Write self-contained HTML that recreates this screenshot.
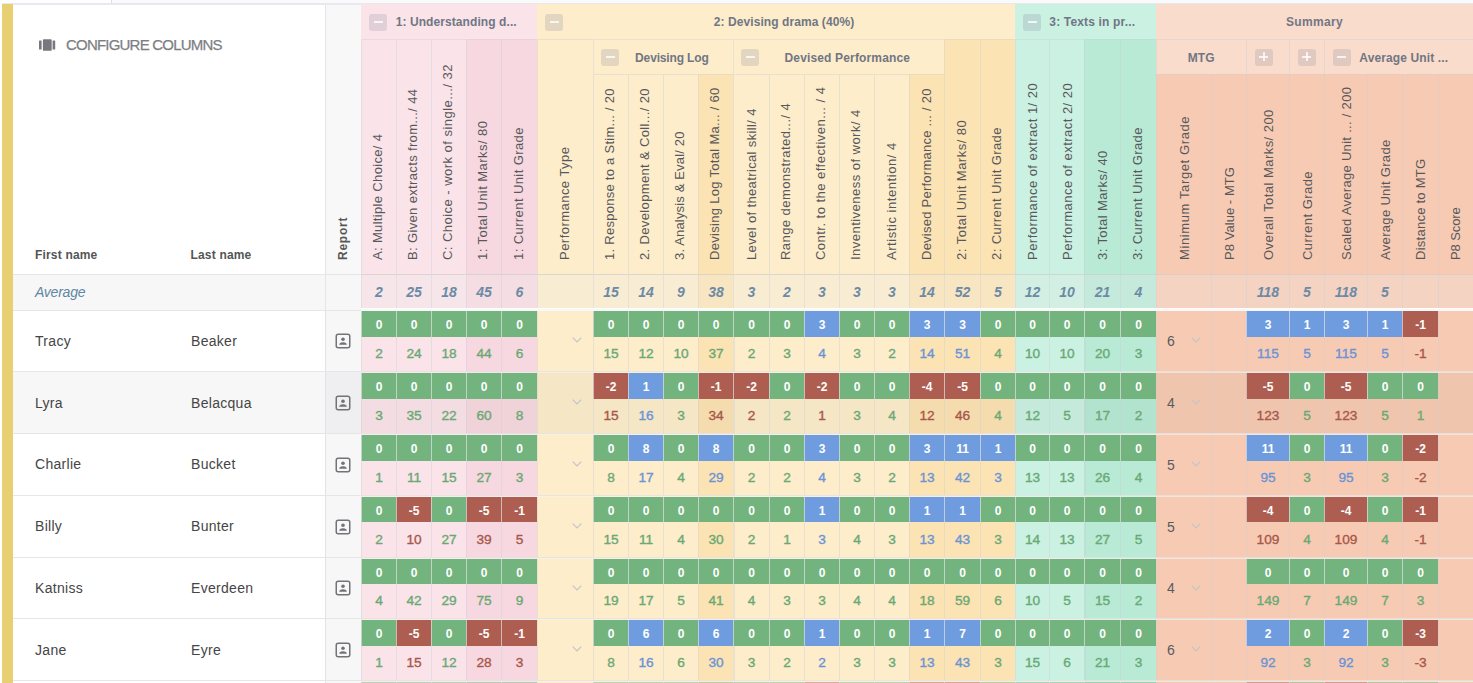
<!DOCTYPE html>
<html><head><meta charset="utf-8"><title>Markbook</title>
<style>
html,body{margin:0;padding:0;background:#fff;}
body{width:1473px;height:683px;overflow:hidden;position:relative;font-family:"Liberation Sans",sans-serif;color:#4a4a4a;}
div,span{box-sizing:border-box;}
svg{display:block;}
.a{position:absolute;}
.hc{position:absolute;border-left:1px solid rgba(200,205,215,0.38);}
.rt{position:absolute;white-space:nowrap;font-size:13px;line-height:16px;height:16px;color:#58585c;transform-origin:0 50%;transform:rotate(-90deg);}
.gh{position:absolute;font-weight:bold;font-size:12px;color:#717684;line-height:35px;height:35px;white-space:nowrap;}
.btn{position:absolute;width:18px;height:17px;border-radius:3px;background:rgba(125,125,150,0.2);}
.btn i{position:absolute;left:4.5px;top:7.75px;width:9px;height:1.4px;background:#fff;opacity:.78;}
.btn b{position:absolute;left:8.3px;top:3.95px;width:1.4px;height:9px;background:#fff;opacity:.78;}
.av{position:absolute;text-align:center;font-style:italic;font-weight:bold;font-size:14px;color:#6c8aa5;line-height:34px;height:35px;border-left:1px solid rgba(200,205,215,0.36);}
.t{position:absolute;height:26px;line-height:28px;text-align:center;color:#fff;font-weight:bold;font-size:12px;border-left:1px solid rgba(225,222,225,0.72);}
.v{position:absolute;height:34px;line-height:33px;text-align:center;font-size:13.7px;border-left:1px solid rgba(200,205,215,0.38);-webkit-text-stroke:0.35px currentColor;}
.nm{position:absolute;font-size:14px;color:#454545;line-height:20px;white-space:nowrap;letter-spacing:0.3px;}
.hl{position:absolute;height:1px;}
</style></head><body>

<div class="a" style="left:112px;top:0;width:1361px;height:3px;background:#fafafa"></div>
<div class="a" style="left:111px;top:0;width:1px;height:4px;background:#dcdde6"></div>
<div class="a" style="left:2px;top:3px;width:1471px;height:2px;background:#e8e9ee"></div>
<div class="a" style="left:2px;top:4px;width:11px;height:679px;background:#e7cf72"></div>
<div class="a" style="left:38.8px;top:38.8px;width:17px;height:12px"><svg width="17" height="12" viewBox="0 0 17 12"><rect x="0" y="1.4" width="2.6" height="9.2" rx="0.5" fill="#77787d"/><rect x="3.9" y="0.2" width="8.8" height="11.6" rx="0.9" fill="#77787d"/><rect x="13.6" y="1.4" width="2.6" height="9.2" rx="0.5" fill="#77787d"/></svg></div>
<div class="a" style="left:66px;top:35.4px;font-size:15px;line-height:20px;color:#7d7e83;-webkit-text-stroke:0.25px #7d7e83;letter-spacing:-0.793px;white-space:nowrap">CONFIGURE COLUMNS</div>
<div class="a" style="left:35px;top:246.8px;font-size:12px;font-weight:bold;line-height:16px;color:#555;white-space:nowrap;letter-spacing:0.179px">First name</div>
<div class="a" style="left:190.5px;top:246.8px;font-size:12px;font-weight:bold;line-height:16px;color:#555;white-space:nowrap;letter-spacing:0.18px">Last name</div>
<div class="a" style="left:325px;top:5px;width:36px;height:269px;background:#f8f8f8;border-left:1px solid #e4e4e9"></div>
<span class="rt" style="left:343px;top:251.5px;font-weight:bold;font-size:12px;letter-spacing:0.746px;color:#585858">Report</span>
<div class="a" style="left:361px;top:4px;width:176px;height:35px;background:#fae4e9;"></div>
<div class="gh" style="left:395.7px;top:5.3px;letter-spacing:0.083px">1: Understanding d...</div>
<div class="btn" style="left:369px;top:13.5px"><i></i></div>
<div class="a" style="left:537px;top:4px;width:478px;height:35px;background:#fdedcb;"></div>
<div class="gh" style="left:713.8px;top:5.3px;letter-spacing:0.076px">2: Devising drama (40%)</div>
<div class="btn" style="left:545px;top:13.5px"><i></i></div>
<div class="a" style="left:1015px;top:4px;width:141px;height:35px;background:#cbf1e2;"></div>
<div class="gh" style="left:1049.3px;top:5.3px;letter-spacing:0.16px">3: Texts in pr...</div>
<div class="btn" style="left:1023px;top:13.5px"><i></i></div>
<div class="a" style="left:1156px;top:4px;width:317px;height:35px;background:#f9dccc;"></div>
<div class="gh" style="left:1285.9px;top:5.3px;letter-spacing:0.333px">Summary</div>
<div class="a" style="left:593px;top:39px;width:140px;height:35px;background:#fdedcb;border-left:1px solid rgba(200,205,215,0.36);border-top:1px solid rgba(200,205,215,0.36);"></div>
<div class="gh" style="left:635.1px;top:40.5px;letter-spacing:-0.149px">Devising Log</div>
<div class="btn" style="left:601px;top:48.5px"><i></i></div>
<div class="a" style="left:733px;top:39px;width:211px;height:35px;background:#fdedcb;border-left:1px solid rgba(200,205,215,0.36);border-top:1px solid rgba(200,205,215,0.36);"></div>
<div class="gh" style="left:784.5px;top:40.5px;letter-spacing:0.154px">Devised Performance</div>
<div class="btn" style="left:741px;top:48.5px"><i></i></div>
<div class="a" style="left:1156px;top:39px;width:90px;height:35px;background:#f9dccc;border-left:1px solid rgba(200,205,215,0.36);border-top:1px solid rgba(200,205,215,0.36);"></div>
<div class="gh" style="left:1187.7px;top:40.5px;letter-spacing:0.164px">MTG</div>
<div class="a" style="left:1246px;top:39px;width:43px;height:35px;background:#f9dccc;border-left:1px solid rgba(200,205,215,0.36);border-top:1px solid rgba(200,205,215,0.36);"></div>
<div class="btn" style="left:1254.9px;top:48.5px"><i></i><b></b></div>
<div class="a" style="left:1289px;top:39px;width:35px;height:35px;background:#f9dccc;border-left:1px solid rgba(200,205,215,0.36);border-top:1px solid rgba(200,205,215,0.36);"></div>
<div class="btn" style="left:1297.9px;top:48.5px"><i></i><b></b></div>
<div class="a" style="left:1324px;top:39px;width:149px;height:35px;background:#f9dccc;border-left:1px solid rgba(200,205,215,0.36);border-top:1px solid rgba(200,205,215,0.36);"></div>
<div class="gh" style="left:1359.3px;top:40.5px;letter-spacing:0.119px">Average Unit ...</div>
<div class="btn" style="left:1332.9px;top:48.5px"><i></i></div>
<div class="hc" style="left:361px;top:39px;width:35px;height:235px;background:#fae4e9;border-top:1px solid rgba(200,205,215,0.36)"></div>
<span class="rt" style="left:378.2px;top:251.60000000000002px;letter-spacing:0.338px">A: Multiple Choice/ 4</span>
<div class="hc" style="left:396px;top:39px;width:35px;height:235px;background:#fae4e9;border-top:1px solid rgba(200,205,215,0.36)"></div>
<span class="rt" style="left:413.2px;top:251.60000000000002px;letter-spacing:0.353px">B: Given extracts from.../ 44</span>
<div class="hc" style="left:431px;top:39px;width:35px;height:235px;background:#fae4e9;border-top:1px solid rgba(200,205,215,0.36)"></div>
<span class="rt" style="left:448.2px;top:251.60000000000002px;letter-spacing:0.464px">C: Choice - work of single.../ 32</span>
<div class="hc" style="left:466px;top:39px;width:35px;height:235px;background:#f7d8e0;border-top:1px solid rgba(200,205,215,0.36)"></div>
<span class="rt" style="left:483.2px;top:251.60000000000002px;letter-spacing:0.45px">1: Total Unit Marks/ 80</span>
<div class="hc" style="left:501px;top:39px;width:36px;height:235px;background:#f7d8e0;border-top:1px solid rgba(200,205,215,0.36)"></div>
<span class="rt" style="left:518.7px;top:251.60000000000002px;letter-spacing:0.411px">1: Current Unit Grade</span>
<div class="hc" style="left:537px;top:39px;width:56px;height:235px;background:#fdedcb;border-top:1px solid rgba(200,205,215,0.36)"></div>
<span class="rt" style="left:564.7px;top:251.60000000000002px;letter-spacing:0.468px">Performance Type</span>
<div class="hc" style="left:593px;top:74px;width:35px;height:200px;background:#fdedcb;border-top:1px solid rgba(200,205,215,0.36)"></div>
<span class="rt" style="left:610.2px;top:251.60000000000002px;letter-spacing:0.267px">1. Response to a Stim... / 20</span>
<div class="hc" style="left:628px;top:74px;width:35px;height:200px;background:#fdedcb;border-top:1px solid rgba(200,205,215,0.36)"></div>
<span class="rt" style="left:645.2px;top:251.60000000000002px;letter-spacing:0.357px">2. Development &amp; Coll.../ 20</span>
<div class="hc" style="left:663px;top:74px;width:35px;height:200px;background:#fdedcb;border-top:1px solid rgba(200,205,215,0.36)"></div>
<span class="rt" style="left:680.2px;top:251.60000000000002px;letter-spacing:0.161px">3. Analysis &amp; Eval/ 20</span>
<div class="hc" style="left:698px;top:74px;width:35px;height:200px;background:#fce3b3;border-top:1px solid rgba(200,205,215,0.36)"></div>
<span class="rt" style="left:715.2px;top:251.60000000000002px;letter-spacing:0.304px">Devising Log Total Ma... / 60</span>
<div class="hc" style="left:733px;top:74px;width:36px;height:200px;background:#fdedcb;border-top:1px solid rgba(200,205,215,0.36)"></div>
<span class="rt" style="left:751.5px;top:251.60000000000002px;letter-spacing:0.366px">Level of theatrical skill/ 4</span>
<div class="hc" style="left:769px;top:74px;width:35px;height:200px;background:#fdedcb;border-top:1px solid rgba(200,205,215,0.36)"></div>
<span class="rt" style="left:786.2px;top:251.60000000000002px;letter-spacing:0.439px">Range demonstrated.../ 4</span>
<div class="hc" style="left:804px;top:74px;width:35px;height:200px;background:#fdedcb;border-top:1px solid rgba(200,205,215,0.36)"></div>
<span class="rt" style="left:821.2px;top:251.60000000000002px;letter-spacing:0.472px">Contr. to the effectiven... / 4</span>
<div class="hc" style="left:839px;top:74px;width:35px;height:200px;background:#fdedcb;border-top:1px solid rgba(200,205,215,0.36)"></div>
<span class="rt" style="left:856.2px;top:251.60000000000002px;letter-spacing:0.471px">Inventiveness of work/ 4</span>
<div class="hc" style="left:874px;top:74px;width:35px;height:200px;background:#fdedcb;border-top:1px solid rgba(200,205,215,0.36)"></div>
<span class="rt" style="left:892.2px;top:251.60000000000002px;letter-spacing:0.554px">Artistic intention/ 4</span>
<div class="hc" style="left:909px;top:74px;width:35px;height:200px;background:#fce3b3;border-top:1px solid rgba(200,205,215,0.36)"></div>
<span class="rt" style="left:926.8000000000001px;top:251.60000000000002px;letter-spacing:0.246px">Devised Performance ... / 20</span>
<div class="hc" style="left:944px;top:39px;width:36px;height:235px;background:#fce3b3;border-top:1px solid rgba(200,205,215,0.36)"></div>
<span class="rt" style="left:961.7px;top:251.60000000000002px;letter-spacing:0.487px">2: Total Unit Marks/ 80</span>
<div class="hc" style="left:980px;top:39px;width:35px;height:235px;background:#fce3b3;border-top:1px solid rgba(200,205,215,0.36)"></div>
<span class="rt" style="left:997.2px;top:251.60000000000002px;letter-spacing:0.411px">2: Current Unit Grade</span>
<div class="hc" style="left:1015px;top:39px;width:34px;height:235px;background:#cbf1e2;border-top:1px solid rgba(200,205,215,0.36)"></div>
<span class="rt" style="left:1033.2px;top:251.60000000000002px;letter-spacing:0.469px">Performance of extract 1/ 20</span>
<div class="hc" style="left:1049px;top:39px;width:35px;height:235px;background:#cbf1e2;border-top:1px solid rgba(200,205,215,0.36)"></div>
<span class="rt" style="left:1068.2px;top:251.60000000000002px;letter-spacing:0.469px">Performance of extract 2/ 20</span>
<div class="hc" style="left:1084px;top:39px;width:36px;height:235px;background:#b8ead5;border-top:1px solid rgba(200,205,215,0.36)"></div>
<span class="rt" style="left:1102.9px;top:251.60000000000002px;letter-spacing:0.407px">3: Total Marks/ 40</span>
<div class="hc" style="left:1120px;top:39px;width:36px;height:235px;background:#b8ead5;border-top:1px solid rgba(200,205,215,0.36)"></div>
<span class="rt" style="left:1137.7px;top:251.60000000000002px;letter-spacing:0.411px">3: Current Unit Grade</span>
<div class="hc" style="left:1156px;top:74px;width:55px;height:200px;background:#f7cbb3;border-top:1px solid rgba(200,205,215,0.36)"></div>
<span class="rt" style="left:1184.7px;top:251.60000000000002px;letter-spacing:0.611px">Minimum Target Grade</span>
<div class="hc" style="left:1211px;top:74px;width:35px;height:200px;background:#f7cbb3;border-top:1px solid rgba(200,205,215,0.36)"></div>
<span class="rt" style="left:1229.7px;top:251.60000000000002px;letter-spacing:0.051px">P8 Value - MTG</span>
<div class="hc" style="left:1246px;top:74px;width:43px;height:200px;background:#f7cbb3;border-top:1px solid rgba(200,205,215,0.36)"></div>
<span class="rt" style="left:1268.7px;top:251.60000000000002px;letter-spacing:0.451px">Overall Total Marks/ 200</span>
<div class="hc" style="left:1289px;top:74px;width:35px;height:200px;background:#f7cbb3;border-top:1px solid rgba(200,205,215,0.36)"></div>
<span class="rt" style="left:1307.7px;top:251.60000000000002px;letter-spacing:0.459px">Current Grade</span>
<div class="hc" style="left:1324px;top:74px;width:43px;height:200px;background:#f7cbb3;border-top:1px solid rgba(200,205,215,0.36)"></div>
<span class="rt" style="left:1346.7px;top:251.60000000000002px;letter-spacing:0.299px">Scaled Average Unit ... / 200</span>
<div class="hc" style="left:1367px;top:74px;width:35px;height:200px;background:#f7cbb3;border-top:1px solid rgba(200,205,215,0.36)"></div>
<span class="rt" style="left:1385.7px;top:251.60000000000002px;letter-spacing:0.325px">Average Unit Grade</span>
<div class="hc" style="left:1402px;top:74px;width:36px;height:200px;background:#f7cbb3;border-top:1px solid rgba(200,205,215,0.36)"></div>
<span class="rt" style="left:1420.6000000000001px;top:251.60000000000002px;letter-spacing:0.255px">Distance to MTG</span>
<div class="hc" style="left:1438px;top:74px;width:35px;height:200px;background:#f7cbb3;border-top:1px solid rgba(200,205,215,0.36)"></div>
<span class="rt" style="left:1455.6000000000001px;top:251.60000000000002px;letter-spacing:-0.098px">P8 Score</span>
<div class="a" style="left:13px;top:274px;width:313px;height:36px;background:#f7f7f7;border-top:1px solid #e6e6e6"></div>
<div class="a" style="left:325px;top:274px;width:36px;height:36px;background:#f7f7f7;border-left:1px solid #e4e4e9;border-top:1px solid #e6e6e6"></div>
<div class="a" style="left:35px;top:274px;font-size:14px;font-style:italic;line-height:37px;color:#5f86a2;letter-spacing:-0.234px">Average</div>
<div class="av" style="left:361px;top:274px;width:35px;height:34px;background:#f6e6ea;border-top:1px solid rgba(205,200,200,0.6)">2</div>
<div class="av" style="left:396px;top:274px;width:35px;height:34px;background:#f6e6ea;border-top:1px solid rgba(205,200,200,0.6)">25</div>
<div class="av" style="left:431px;top:274px;width:35px;height:34px;background:#f6e6ea;border-top:1px solid rgba(205,200,200,0.6)">18</div>
<div class="av" style="left:466px;top:274px;width:35px;height:34px;background:#f4dde3;border-top:1px solid rgba(205,200,200,0.6)">45</div>
<div class="av" style="left:501px;top:274px;width:36px;height:34px;background:#f4dde3;border-top:1px solid rgba(205,200,200,0.6)">6</div>
<div class="av" style="left:537px;top:274px;width:56px;height:34px;background:#f8ecd3;border-top:1px solid rgba(205,200,200,0.6)"></div>
<div class="av" style="left:593px;top:274px;width:35px;height:34px;background:#f8ecd3;border-top:1px solid rgba(205,200,200,0.6)">15</div>
<div class="av" style="left:628px;top:274px;width:35px;height:34px;background:#f8ecd3;border-top:1px solid rgba(205,200,200,0.6)">14</div>
<div class="av" style="left:663px;top:274px;width:35px;height:34px;background:#f8ecd3;border-top:1px solid rgba(205,200,200,0.6)">9</div>
<div class="av" style="left:698px;top:274px;width:35px;height:34px;background:#f8e5c2;border-top:1px solid rgba(205,200,200,0.6)">38</div>
<div class="av" style="left:733px;top:274px;width:36px;height:34px;background:#f8ecd3;border-top:1px solid rgba(205,200,200,0.6)">3</div>
<div class="av" style="left:769px;top:274px;width:35px;height:34px;background:#f8ecd3;border-top:1px solid rgba(205,200,200,0.6)">2</div>
<div class="av" style="left:804px;top:274px;width:35px;height:34px;background:#f8ecd3;border-top:1px solid rgba(205,200,200,0.6)">3</div>
<div class="av" style="left:839px;top:274px;width:35px;height:34px;background:#f8ecd3;border-top:1px solid rgba(205,200,200,0.6)">3</div>
<div class="av" style="left:874px;top:274px;width:35px;height:34px;background:#f8ecd3;border-top:1px solid rgba(205,200,200,0.6)">3</div>
<div class="av" style="left:909px;top:274px;width:35px;height:34px;background:#f8e5c2;border-top:1px solid rgba(205,200,200,0.6)">14</div>
<div class="av" style="left:944px;top:274px;width:36px;height:34px;background:#f8e5c2;border-top:1px solid rgba(205,200,200,0.6)">52</div>
<div class="av" style="left:980px;top:274px;width:35px;height:34px;background:#f8e5c2;border-top:1px solid rgba(205,200,200,0.6)">5</div>
<div class="av" style="left:1015px;top:274px;width:34px;height:34px;background:#d3efe4;border-top:1px solid rgba(205,200,200,0.6)">12</div>
<div class="av" style="left:1049px;top:274px;width:35px;height:34px;background:#d3efe4;border-top:1px solid rgba(205,200,200,0.6)">10</div>
<div class="av" style="left:1084px;top:274px;width:36px;height:34px;background:#c5eadb;border-top:1px solid rgba(205,200,200,0.6)">21</div>
<div class="av" style="left:1120px;top:274px;width:36px;height:34px;background:#c5eadb;border-top:1px solid rgba(205,200,200,0.6)">4</div>
<div class="av" style="left:1156px;top:274px;width:55px;height:34px;background:#f4d3c2;border-top:1px solid rgba(205,200,200,0.6)"></div>
<div class="av" style="left:1211px;top:274px;width:35px;height:34px;background:#f4d3c2;border-top:1px solid rgba(205,200,200,0.6)"></div>
<div class="av" style="left:1246px;top:274px;width:43px;height:34px;background:#f4d3c2;border-top:1px solid rgba(205,200,200,0.6)">118</div>
<div class="av" style="left:1289px;top:274px;width:35px;height:34px;background:#f4d3c2;border-top:1px solid rgba(205,200,200,0.6)">5</div>
<div class="av" style="left:1324px;top:274px;width:43px;height:34px;background:#f4d3c2;border-top:1px solid rgba(205,200,200,0.6)">118</div>
<div class="av" style="left:1367px;top:274px;width:35px;height:34px;background:#f4d3c2;border-top:1px solid rgba(205,200,200,0.6)">5</div>
<div class="av" style="left:1402px;top:274px;width:36px;height:34px;background:#f4d3c2;border-top:1px solid rgba(205,200,200,0.6)"></div>
<div class="av" style="left:1438px;top:274px;width:35px;height:34px;background:#f4d3c2;border-top:1px solid rgba(205,200,200,0.6)"></div>
<div class="a" style="left:13px;top:310px;width:312px;height:61px;background:#ffffff;border-top:1px solid #e6e6e6"></div>
<div class="a" style="left:325px;top:310px;width:36px;height:61px;background:#f7f7f7;border-left:1px solid #e2e2e8;border-top:1px solid #e6e6e6"></div>
<div class="nm" style="left:35px;top:330.8px">Tracy</div>
<div class="nm" style="left:191px;top:330.8px">Beaker</div>
<div class="a" style="left:335px;top:333.0px;width:16px;height:16px"><svg width="16" height="16" viewBox="0 0 16 16"><rect x="1.25" y="1.25" width="13.5" height="13.5" rx="2" fill="none" stroke="#727277" stroke-width="1.5"/><circle cx="8" cy="6.3" r="1.8" fill="#727277"/><path d="M4.2 11.8 Q4.2 9.3 8 9.3 Q11.8 9.3 11.8 11.8 Z" fill="#727277"/></svg></div>
<div class="v" style="left:361px;top:309px;width:35px;height:62px;background:#fae4e9"></div>
<div class="v" style="left:396px;top:309px;width:35px;height:62px;background:#fae4e9"></div>
<div class="v" style="left:431px;top:309px;width:35px;height:62px;background:#fae4e9"></div>
<div class="v" style="left:466px;top:309px;width:35px;height:62px;background:#f7d8e0"></div>
<div class="v" style="left:501px;top:309px;width:36px;height:62px;background:#f7d8e0"></div>
<div class="v" style="left:537px;top:309px;width:56px;height:62px;background:#fdedcb"></div>
<div class="v" style="left:593px;top:309px;width:35px;height:62px;background:#fdedcb"></div>
<div class="v" style="left:628px;top:309px;width:35px;height:62px;background:#fdedcb"></div>
<div class="v" style="left:663px;top:309px;width:35px;height:62px;background:#fdedcb"></div>
<div class="v" style="left:698px;top:309px;width:35px;height:62px;background:#fce3b3"></div>
<div class="v" style="left:733px;top:309px;width:36px;height:62px;background:#fdedcb;border-left-width:2px"></div>
<div class="v" style="left:769px;top:309px;width:35px;height:62px;background:#fdedcb"></div>
<div class="v" style="left:804px;top:309px;width:35px;height:62px;background:#fdedcb"></div>
<div class="v" style="left:839px;top:309px;width:35px;height:62px;background:#fdedcb"></div>
<div class="v" style="left:874px;top:309px;width:35px;height:62px;background:#fdedcb"></div>
<div class="v" style="left:909px;top:309px;width:35px;height:62px;background:#fce3b3"></div>
<div class="v" style="left:944px;top:309px;width:36px;height:62px;background:#fce3b3"></div>
<div class="v" style="left:980px;top:309px;width:35px;height:62px;background:#fce3b3"></div>
<div class="v" style="left:1015px;top:309px;width:34px;height:62px;background:#cbf1e2"></div>
<div class="v" style="left:1049px;top:309px;width:35px;height:62px;background:#cbf1e2"></div>
<div class="v" style="left:1084px;top:309px;width:36px;height:62px;background:#b8ead5;border-left-width:2px"></div>
<div class="v" style="left:1120px;top:309px;width:36px;height:62px;background:#b8ead5"></div>
<div class="v" style="left:1156px;top:309px;width:55px;height:62px;background:#f7cbb3"></div>
<div class="v" style="left:1211px;top:309px;width:35px;height:62px;background:#f7cbb3"></div>
<div class="v" style="left:1246px;top:309px;width:43px;height:62px;background:#f7cbb3"></div>
<div class="v" style="left:1289px;top:309px;width:35px;height:62px;background:#f7cbb3"></div>
<div class="v" style="left:1324px;top:309px;width:43px;height:62px;background:#f7cbb3"></div>
<div class="v" style="left:1367px;top:309px;width:35px;height:62px;background:#f7cbb3"></div>
<div class="v" style="left:1402px;top:309px;width:36px;height:62px;background:#f7cbb3"></div>
<div class="v" style="left:1438px;top:309px;width:35px;height:62px;background:#f7cbb3"></div>
<div class="hl" style="left:361px;top:308px;width:1112px;height:1px;background:rgba(248,248,248,0.3)"></div>
<div class="hl" style="left:361px;top:309px;width:1112px;height:2px;background:#f8f8f8"></div>
<div class="t" style="left:361px;top:311px;width:35px;height:26px;background:#73b37e">0</div>
<div class="v" style="left:361px;top:337px;width:35px;height:34px;line-height:34px;color:#6aa874;border-left:none;padding-left:1px">2</div>
<div class="t" style="left:396px;top:311px;width:35px;height:26px;background:#73b37e">0</div>
<div class="v" style="left:396px;top:337px;width:35px;height:34px;line-height:34px;color:#6aa874;border-left:none;padding-left:1px">24</div>
<div class="t" style="left:431px;top:311px;width:35px;height:26px;background:#73b37e">0</div>
<div class="v" style="left:431px;top:337px;width:35px;height:34px;line-height:34px;color:#6aa874;border-left:none;padding-left:1px">18</div>
<div class="t" style="left:466px;top:311px;width:35px;height:26px;background:#73b37e">0</div>
<div class="v" style="left:466px;top:337px;width:35px;height:34px;line-height:34px;color:#6aa874;border-left:none;padding-left:1px">44</div>
<div class="t" style="left:501px;top:311px;width:36px;height:26px;background:#73b37e">0</div>
<div class="v" style="left:501px;top:337px;width:36px;height:34px;line-height:34px;color:#6aa874;border-left:none;padding-left:1px">6</div>
<div class="t" style="left:593px;top:311px;width:35px;height:26px;background:#73b37e">0</div>
<div class="v" style="left:593px;top:337px;width:35px;height:34px;line-height:34px;color:#6aa874;border-left:none;padding-left:1px">15</div>
<div class="t" style="left:628px;top:311px;width:35px;height:26px;background:#73b37e">0</div>
<div class="v" style="left:628px;top:337px;width:35px;height:34px;line-height:34px;color:#6aa874;border-left:none;padding-left:1px">12</div>
<div class="t" style="left:663px;top:311px;width:35px;height:26px;background:#73b37e">0</div>
<div class="v" style="left:663px;top:337px;width:35px;height:34px;line-height:34px;color:#6aa874;border-left:none;padding-left:1px">10</div>
<div class="t" style="left:698px;top:311px;width:35px;height:26px;background:#73b37e">0</div>
<div class="v" style="left:698px;top:337px;width:35px;height:34px;line-height:34px;color:#6aa874;border-left:none;padding-left:1px">37</div>
<div class="t" style="left:733px;top:311px;width:36px;height:26px;background:#73b37e">0</div>
<div class="v" style="left:733px;top:337px;width:36px;height:34px;line-height:34px;color:#6aa874;border-left:none;padding-left:1px">2</div>
<div class="t" style="left:769px;top:311px;width:35px;height:26px;background:#73b37e">0</div>
<div class="v" style="left:769px;top:337px;width:35px;height:34px;line-height:34px;color:#6aa874;border-left:none;padding-left:1px">3</div>
<div class="t" style="left:804px;top:311px;width:35px;height:26px;background:#6e9cde">3</div>
<div class="v" style="left:804px;top:337px;width:35px;height:34px;line-height:34px;color:#6b93d6;border-left:none;padding-left:1px">4</div>
<div class="t" style="left:839px;top:311px;width:35px;height:26px;background:#73b37e">0</div>
<div class="v" style="left:839px;top:337px;width:35px;height:34px;line-height:34px;color:#6aa874;border-left:none;padding-left:1px">3</div>
<div class="t" style="left:874px;top:311px;width:35px;height:26px;background:#73b37e">0</div>
<div class="v" style="left:874px;top:337px;width:35px;height:34px;line-height:34px;color:#6aa874;border-left:none;padding-left:1px">2</div>
<div class="t" style="left:909px;top:311px;width:35px;height:26px;background:#6e9cde">3</div>
<div class="v" style="left:909px;top:337px;width:35px;height:34px;line-height:34px;color:#6b93d6;border-left:none;padding-left:1px">14</div>
<div class="t" style="left:944px;top:311px;width:36px;height:26px;background:#6e9cde">3</div>
<div class="v" style="left:944px;top:337px;width:36px;height:34px;line-height:34px;color:#6b93d6;border-left:none;padding-left:1px">51</div>
<div class="t" style="left:980px;top:311px;width:35px;height:26px;background:#73b37e">0</div>
<div class="v" style="left:980px;top:337px;width:35px;height:34px;line-height:34px;color:#6aa874;border-left:none;padding-left:1px">4</div>
<div class="t" style="left:1015px;top:311px;width:34px;height:26px;background:#73b37e">0</div>
<div class="v" style="left:1015px;top:337px;width:34px;height:34px;line-height:34px;color:#6aa874;border-left:none;padding-left:1px">10</div>
<div class="t" style="left:1049px;top:311px;width:35px;height:26px;background:#73b37e">0</div>
<div class="v" style="left:1049px;top:337px;width:35px;height:34px;line-height:34px;color:#6aa874;border-left:none;padding-left:1px">10</div>
<div class="t" style="left:1084px;top:311px;width:36px;height:26px;background:#73b37e">0</div>
<div class="v" style="left:1084px;top:337px;width:36px;height:34px;line-height:34px;color:#6aa874;border-left:none;padding-left:1px">20</div>
<div class="t" style="left:1120px;top:311px;width:36px;height:26px;background:#73b37e">0</div>
<div class="v" style="left:1120px;top:337px;width:36px;height:34px;line-height:34px;color:#6aa874;border-left:none;padding-left:1px">3</div>
<div class="t" style="left:1246px;top:311px;width:43px;height:26px;background:#6e9cde">3</div>
<div class="v" style="left:1246px;top:337px;width:43px;height:34px;line-height:34px;color:#6b93d6;border-left:none;padding-left:1px">115</div>
<div class="t" style="left:1289px;top:311px;width:35px;height:26px;background:#6e9cde">1</div>
<div class="v" style="left:1289px;top:337px;width:35px;height:34px;line-height:34px;color:#6b93d6;border-left:none;padding-left:1px">5</div>
<div class="t" style="left:1324px;top:311px;width:43px;height:26px;background:#6e9cde">3</div>
<div class="v" style="left:1324px;top:337px;width:43px;height:34px;line-height:34px;color:#6b93d6;border-left:none;padding-left:1px">115</div>
<div class="t" style="left:1367px;top:311px;width:35px;height:26px;background:#6e9cde">1</div>
<div class="v" style="left:1367px;top:337px;width:35px;height:34px;line-height:34px;color:#6b93d6;border-left:none;padding-left:1px">5</div>
<div class="t" style="left:1402px;top:311px;width:36px;height:26px;background:#ae5e50">-1</div>
<div class="v" style="left:1402px;top:337px;width:36px;height:34px;line-height:34px;color:#a8574a;border-left:none;padding-left:1px">-1</div>
<div class="a" style="left:572px;top:337.2px;width:10px;height:6px"><svg width="10" height="6" viewBox="0 0 10 6"><path d="M0.7 0.7 L5 5 L9.3 0.7" fill="none" stroke="#c3c3cb" stroke-width="1.2"/></svg></div>
<div class="a" style="left:1191px;top:337.2px;width:10px;height:6px"><svg width="10" height="6" viewBox="0 0 10 6"><path d="M0.7 0.7 L5 5 L9.3 0.7" fill="none" stroke="#c3c3cb" stroke-width="1.2"/></svg></div>
<div class="a" style="left:1167px;top:331.0px;font-size:14px;line-height:20px;color:#5a5a5e">6</div>
<div class="a" style="left:13px;top:371px;width:312px;height:62px;background:#f7f7f7;border-top:1px solid #e6e6e6"></div>
<div class="a" style="left:325px;top:371px;width:36px;height:62px;background:#efeff1;border-left:1px solid #e2e2e8;border-top:1px solid #e6e6e6"></div>
<div class="nm" style="left:35px;top:392.64000000000004px">Lyra</div>
<div class="nm" style="left:191px;top:392.64000000000004px">Belacqua</div>
<div class="a" style="left:335px;top:394.84000000000003px;width:16px;height:16px"><svg width="16" height="16" viewBox="0 0 16 16"><rect x="1.25" y="1.25" width="13.5" height="13.5" rx="2" fill="none" stroke="#727277" stroke-width="1.5"/><circle cx="8" cy="6.3" r="1.8" fill="#727277"/><path d="M4.2 11.8 Q4.2 9.3 8 9.3 Q11.8 9.3 11.8 11.8 Z" fill="#727277"/></svg></div>
<div class="v" style="left:361px;top:371px;width:35px;height:62px;background:#f3dde2"></div>
<div class="v" style="left:396px;top:371px;width:35px;height:62px;background:#f3dde2"></div>
<div class="v" style="left:431px;top:371px;width:35px;height:62px;background:#f3dde2"></div>
<div class="v" style="left:466px;top:371px;width:35px;height:62px;background:#f0d2d9"></div>
<div class="v" style="left:501px;top:371px;width:36px;height:62px;background:#f0d2d9"></div>
<div class="v" style="left:537px;top:371px;width:56px;height:62px;background:#f5e6c5"></div>
<div class="v" style="left:593px;top:371px;width:35px;height:62px;background:#f5e6c5"></div>
<div class="v" style="left:628px;top:371px;width:35px;height:62px;background:#f5e6c5"></div>
<div class="v" style="left:663px;top:371px;width:35px;height:62px;background:#f5e6c5"></div>
<div class="v" style="left:698px;top:371px;width:35px;height:62px;background:#f4dcae"></div>
<div class="v" style="left:733px;top:371px;width:36px;height:62px;background:#f5e6c5;border-left-width:2px"></div>
<div class="v" style="left:769px;top:371px;width:35px;height:62px;background:#f5e6c5"></div>
<div class="v" style="left:804px;top:371px;width:35px;height:62px;background:#f5e6c5"></div>
<div class="v" style="left:839px;top:371px;width:35px;height:62px;background:#f5e6c5"></div>
<div class="v" style="left:874px;top:371px;width:35px;height:62px;background:#f5e6c5"></div>
<div class="v" style="left:909px;top:371px;width:35px;height:62px;background:#f4dcae"></div>
<div class="v" style="left:944px;top:371px;width:36px;height:62px;background:#f4dcae"></div>
<div class="v" style="left:980px;top:371px;width:35px;height:62px;background:#f4dcae"></div>
<div class="v" style="left:1015px;top:371px;width:34px;height:62px;background:#c5eadb"></div>
<div class="v" style="left:1049px;top:371px;width:35px;height:62px;background:#c5eadb"></div>
<div class="v" style="left:1084px;top:371px;width:36px;height:62px;background:#b2e3cf;border-left-width:2px"></div>
<div class="v" style="left:1120px;top:371px;width:36px;height:62px;background:#b2e3cf"></div>
<div class="v" style="left:1156px;top:371px;width:55px;height:62px;background:#f0c5ae"></div>
<div class="v" style="left:1211px;top:371px;width:35px;height:62px;background:#f0c5ae"></div>
<div class="v" style="left:1246px;top:371px;width:43px;height:62px;background:#f0c5ae"></div>
<div class="v" style="left:1289px;top:371px;width:35px;height:62px;background:#f0c5ae"></div>
<div class="v" style="left:1324px;top:371px;width:43px;height:62px;background:#f0c5ae"></div>
<div class="v" style="left:1367px;top:371px;width:35px;height:62px;background:#f0c5ae"></div>
<div class="v" style="left:1402px;top:371px;width:36px;height:62px;background:#f0c5ae"></div>
<div class="v" style="left:1438px;top:371px;width:35px;height:62px;background:#f0c5ae"></div>
<div class="hl" style="left:361px;top:371px;width:1112px;background:rgba(228,226,226,0.85)"></div>
<div class="hl" style="left:361px;top:372px;width:1112px;background:rgba(245,243,243,0.6)"></div>
<div class="t" style="left:361px;top:373px;width:35px;height:26px;background:#73b37e">0</div>
<div class="v" style="left:361px;top:399px;width:35px;height:34px;line-height:34px;color:#6aa874;border-left:none;padding-left:1px">3</div>
<div class="t" style="left:396px;top:373px;width:35px;height:26px;background:#73b37e">0</div>
<div class="v" style="left:396px;top:399px;width:35px;height:34px;line-height:34px;color:#6aa874;border-left:none;padding-left:1px">35</div>
<div class="t" style="left:431px;top:373px;width:35px;height:26px;background:#73b37e">0</div>
<div class="v" style="left:431px;top:399px;width:35px;height:34px;line-height:34px;color:#6aa874;border-left:none;padding-left:1px">22</div>
<div class="t" style="left:466px;top:373px;width:35px;height:26px;background:#73b37e">0</div>
<div class="v" style="left:466px;top:399px;width:35px;height:34px;line-height:34px;color:#6aa874;border-left:none;padding-left:1px">60</div>
<div class="t" style="left:501px;top:373px;width:36px;height:26px;background:#73b37e">0</div>
<div class="v" style="left:501px;top:399px;width:36px;height:34px;line-height:34px;color:#6aa874;border-left:none;padding-left:1px">8</div>
<div class="t" style="left:593px;top:373px;width:35px;height:26px;background:#ae5e50">-2</div>
<div class="v" style="left:593px;top:399px;width:35px;height:34px;line-height:34px;color:#a8574a;border-left:none;padding-left:1px">15</div>
<div class="t" style="left:628px;top:373px;width:35px;height:26px;background:#6e9cde">1</div>
<div class="v" style="left:628px;top:399px;width:35px;height:34px;line-height:34px;color:#6b93d6;border-left:none;padding-left:1px">16</div>
<div class="t" style="left:663px;top:373px;width:35px;height:26px;background:#73b37e">0</div>
<div class="v" style="left:663px;top:399px;width:35px;height:34px;line-height:34px;color:#6aa874;border-left:none;padding-left:1px">3</div>
<div class="t" style="left:698px;top:373px;width:35px;height:26px;background:#ae5e50">-1</div>
<div class="v" style="left:698px;top:399px;width:35px;height:34px;line-height:34px;color:#a8574a;border-left:none;padding-left:1px">34</div>
<div class="t" style="left:733px;top:373px;width:36px;height:26px;background:#ae5e50">-2</div>
<div class="v" style="left:733px;top:399px;width:36px;height:34px;line-height:34px;color:#a8574a;border-left:none;padding-left:1px">2</div>
<div class="t" style="left:769px;top:373px;width:35px;height:26px;background:#73b37e">0</div>
<div class="v" style="left:769px;top:399px;width:35px;height:34px;line-height:34px;color:#6aa874;border-left:none;padding-left:1px">2</div>
<div class="t" style="left:804px;top:373px;width:35px;height:26px;background:#ae5e50">-2</div>
<div class="v" style="left:804px;top:399px;width:35px;height:34px;line-height:34px;color:#a8574a;border-left:none;padding-left:1px">1</div>
<div class="t" style="left:839px;top:373px;width:35px;height:26px;background:#73b37e">0</div>
<div class="v" style="left:839px;top:399px;width:35px;height:34px;line-height:34px;color:#6aa874;border-left:none;padding-left:1px">3</div>
<div class="t" style="left:874px;top:373px;width:35px;height:26px;background:#73b37e">0</div>
<div class="v" style="left:874px;top:399px;width:35px;height:34px;line-height:34px;color:#6aa874;border-left:none;padding-left:1px">4</div>
<div class="t" style="left:909px;top:373px;width:35px;height:26px;background:#ae5e50">-4</div>
<div class="v" style="left:909px;top:399px;width:35px;height:34px;line-height:34px;color:#a8574a;border-left:none;padding-left:1px">12</div>
<div class="t" style="left:944px;top:373px;width:36px;height:26px;background:#ae5e50">-5</div>
<div class="v" style="left:944px;top:399px;width:36px;height:34px;line-height:34px;color:#a8574a;border-left:none;padding-left:1px">46</div>
<div class="t" style="left:980px;top:373px;width:35px;height:26px;background:#73b37e">0</div>
<div class="v" style="left:980px;top:399px;width:35px;height:34px;line-height:34px;color:#6aa874;border-left:none;padding-left:1px">4</div>
<div class="t" style="left:1015px;top:373px;width:34px;height:26px;background:#73b37e">0</div>
<div class="v" style="left:1015px;top:399px;width:34px;height:34px;line-height:34px;color:#6aa874;border-left:none;padding-left:1px">12</div>
<div class="t" style="left:1049px;top:373px;width:35px;height:26px;background:#73b37e">0</div>
<div class="v" style="left:1049px;top:399px;width:35px;height:34px;line-height:34px;color:#6aa874;border-left:none;padding-left:1px">5</div>
<div class="t" style="left:1084px;top:373px;width:36px;height:26px;background:#73b37e">0</div>
<div class="v" style="left:1084px;top:399px;width:36px;height:34px;line-height:34px;color:#6aa874;border-left:none;padding-left:1px">17</div>
<div class="t" style="left:1120px;top:373px;width:36px;height:26px;background:#73b37e">0</div>
<div class="v" style="left:1120px;top:399px;width:36px;height:34px;line-height:34px;color:#6aa874;border-left:none;padding-left:1px">2</div>
<div class="t" style="left:1246px;top:373px;width:43px;height:26px;background:#ae5e50">-5</div>
<div class="v" style="left:1246px;top:399px;width:43px;height:34px;line-height:34px;color:#a8574a;border-left:none;padding-left:1px">123</div>
<div class="t" style="left:1289px;top:373px;width:35px;height:26px;background:#73b37e">0</div>
<div class="v" style="left:1289px;top:399px;width:35px;height:34px;line-height:34px;color:#6aa874;border-left:none;padding-left:1px">5</div>
<div class="t" style="left:1324px;top:373px;width:43px;height:26px;background:#ae5e50">-5</div>
<div class="v" style="left:1324px;top:399px;width:43px;height:34px;line-height:34px;color:#a8574a;border-left:none;padding-left:1px">123</div>
<div class="t" style="left:1367px;top:373px;width:35px;height:26px;background:#73b37e">0</div>
<div class="v" style="left:1367px;top:399px;width:35px;height:34px;line-height:34px;color:#6aa874;border-left:none;padding-left:1px">5</div>
<div class="t" style="left:1402px;top:373px;width:36px;height:26px;background:#73b37e">0</div>
<div class="v" style="left:1402px;top:399px;width:36px;height:34px;line-height:34px;color:#6aa874;border-left:none;padding-left:1px">1</div>
<div class="a" style="left:572px;top:399.04px;width:10px;height:6px"><svg width="10" height="6" viewBox="0 0 10 6"><path d="M0.7 0.7 L5 5 L9.3 0.7" fill="none" stroke="#c3c3cb" stroke-width="1.2"/></svg></div>
<div class="a" style="left:1191px;top:399.04px;width:10px;height:6px"><svg width="10" height="6" viewBox="0 0 10 6"><path d="M0.7 0.7 L5 5 L9.3 0.7" fill="none" stroke="#c3c3cb" stroke-width="1.2"/></svg></div>
<div class="a" style="left:1167px;top:392.84000000000003px;font-size:14px;line-height:20px;color:#5a5a5e">4</div>
<div class="a" style="left:13px;top:433px;width:312px;height:62px;background:#ffffff;border-top:1px solid #e6e6e6"></div>
<div class="a" style="left:325px;top:433px;width:36px;height:62px;background:#f7f7f7;border-left:1px solid #e2e2e8;border-top:1px solid #e6e6e6"></div>
<div class="nm" style="left:35px;top:454.48px">Charlie</div>
<div class="nm" style="left:191px;top:454.48px">Bucket</div>
<div class="a" style="left:335px;top:456.68px;width:16px;height:16px"><svg width="16" height="16" viewBox="0 0 16 16"><rect x="1.25" y="1.25" width="13.5" height="13.5" rx="2" fill="none" stroke="#727277" stroke-width="1.5"/><circle cx="8" cy="6.3" r="1.8" fill="#727277"/><path d="M4.2 11.8 Q4.2 9.3 8 9.3 Q11.8 9.3 11.8 11.8 Z" fill="#727277"/></svg></div>
<div class="v" style="left:361px;top:433px;width:35px;height:62px;background:#fae4e9"></div>
<div class="v" style="left:396px;top:433px;width:35px;height:62px;background:#fae4e9"></div>
<div class="v" style="left:431px;top:433px;width:35px;height:62px;background:#fae4e9"></div>
<div class="v" style="left:466px;top:433px;width:35px;height:62px;background:#f7d8e0"></div>
<div class="v" style="left:501px;top:433px;width:36px;height:62px;background:#f7d8e0"></div>
<div class="v" style="left:537px;top:433px;width:56px;height:62px;background:#fdedcb"></div>
<div class="v" style="left:593px;top:433px;width:35px;height:62px;background:#fdedcb"></div>
<div class="v" style="left:628px;top:433px;width:35px;height:62px;background:#fdedcb"></div>
<div class="v" style="left:663px;top:433px;width:35px;height:62px;background:#fdedcb"></div>
<div class="v" style="left:698px;top:433px;width:35px;height:62px;background:#fce3b3"></div>
<div class="v" style="left:733px;top:433px;width:36px;height:62px;background:#fdedcb;border-left-width:2px"></div>
<div class="v" style="left:769px;top:433px;width:35px;height:62px;background:#fdedcb"></div>
<div class="v" style="left:804px;top:433px;width:35px;height:62px;background:#fdedcb"></div>
<div class="v" style="left:839px;top:433px;width:35px;height:62px;background:#fdedcb"></div>
<div class="v" style="left:874px;top:433px;width:35px;height:62px;background:#fdedcb"></div>
<div class="v" style="left:909px;top:433px;width:35px;height:62px;background:#fce3b3"></div>
<div class="v" style="left:944px;top:433px;width:36px;height:62px;background:#fce3b3"></div>
<div class="v" style="left:980px;top:433px;width:35px;height:62px;background:#fce3b3"></div>
<div class="v" style="left:1015px;top:433px;width:34px;height:62px;background:#cbf1e2"></div>
<div class="v" style="left:1049px;top:433px;width:35px;height:62px;background:#cbf1e2"></div>
<div class="v" style="left:1084px;top:433px;width:36px;height:62px;background:#b8ead5;border-left-width:2px"></div>
<div class="v" style="left:1120px;top:433px;width:36px;height:62px;background:#b8ead5"></div>
<div class="v" style="left:1156px;top:433px;width:55px;height:62px;background:#f7cbb3"></div>
<div class="v" style="left:1211px;top:433px;width:35px;height:62px;background:#f7cbb3"></div>
<div class="v" style="left:1246px;top:433px;width:43px;height:62px;background:#f7cbb3"></div>
<div class="v" style="left:1289px;top:433px;width:35px;height:62px;background:#f7cbb3"></div>
<div class="v" style="left:1324px;top:433px;width:43px;height:62px;background:#f7cbb3"></div>
<div class="v" style="left:1367px;top:433px;width:35px;height:62px;background:#f7cbb3"></div>
<div class="v" style="left:1402px;top:433px;width:36px;height:62px;background:#f7cbb3"></div>
<div class="v" style="left:1438px;top:433px;width:35px;height:62px;background:#f7cbb3"></div>
<div class="hl" style="left:361px;top:433px;width:1112px;background:rgba(228,226,226,0.85)"></div>
<div class="hl" style="left:361px;top:434px;width:1112px;background:rgba(245,243,243,0.6)"></div>
<div class="t" style="left:361px;top:435px;width:35px;height:26px;background:#73b37e">0</div>
<div class="v" style="left:361px;top:461px;width:35px;height:34px;line-height:34px;color:#6aa874;border-left:none;padding-left:1px">1</div>
<div class="t" style="left:396px;top:435px;width:35px;height:26px;background:#73b37e">0</div>
<div class="v" style="left:396px;top:461px;width:35px;height:34px;line-height:34px;color:#6aa874;border-left:none;padding-left:1px">11</div>
<div class="t" style="left:431px;top:435px;width:35px;height:26px;background:#73b37e">0</div>
<div class="v" style="left:431px;top:461px;width:35px;height:34px;line-height:34px;color:#6aa874;border-left:none;padding-left:1px">15</div>
<div class="t" style="left:466px;top:435px;width:35px;height:26px;background:#73b37e">0</div>
<div class="v" style="left:466px;top:461px;width:35px;height:34px;line-height:34px;color:#6aa874;border-left:none;padding-left:1px">27</div>
<div class="t" style="left:501px;top:435px;width:36px;height:26px;background:#73b37e">0</div>
<div class="v" style="left:501px;top:461px;width:36px;height:34px;line-height:34px;color:#6aa874;border-left:none;padding-left:1px">3</div>
<div class="t" style="left:593px;top:435px;width:35px;height:26px;background:#73b37e">0</div>
<div class="v" style="left:593px;top:461px;width:35px;height:34px;line-height:34px;color:#6aa874;border-left:none;padding-left:1px">8</div>
<div class="t" style="left:628px;top:435px;width:35px;height:26px;background:#6e9cde">8</div>
<div class="v" style="left:628px;top:461px;width:35px;height:34px;line-height:34px;color:#6b93d6;border-left:none;padding-left:1px">17</div>
<div class="t" style="left:663px;top:435px;width:35px;height:26px;background:#73b37e">0</div>
<div class="v" style="left:663px;top:461px;width:35px;height:34px;line-height:34px;color:#6aa874;border-left:none;padding-left:1px">4</div>
<div class="t" style="left:698px;top:435px;width:35px;height:26px;background:#6e9cde">8</div>
<div class="v" style="left:698px;top:461px;width:35px;height:34px;line-height:34px;color:#6b93d6;border-left:none;padding-left:1px">29</div>
<div class="t" style="left:733px;top:435px;width:36px;height:26px;background:#73b37e">0</div>
<div class="v" style="left:733px;top:461px;width:36px;height:34px;line-height:34px;color:#6aa874;border-left:none;padding-left:1px">2</div>
<div class="t" style="left:769px;top:435px;width:35px;height:26px;background:#73b37e">0</div>
<div class="v" style="left:769px;top:461px;width:35px;height:34px;line-height:34px;color:#6aa874;border-left:none;padding-left:1px">2</div>
<div class="t" style="left:804px;top:435px;width:35px;height:26px;background:#6e9cde">3</div>
<div class="v" style="left:804px;top:461px;width:35px;height:34px;line-height:34px;color:#6b93d6;border-left:none;padding-left:1px">4</div>
<div class="t" style="left:839px;top:435px;width:35px;height:26px;background:#73b37e">0</div>
<div class="v" style="left:839px;top:461px;width:35px;height:34px;line-height:34px;color:#6aa874;border-left:none;padding-left:1px">3</div>
<div class="t" style="left:874px;top:435px;width:35px;height:26px;background:#73b37e">0</div>
<div class="v" style="left:874px;top:461px;width:35px;height:34px;line-height:34px;color:#6aa874;border-left:none;padding-left:1px">2</div>
<div class="t" style="left:909px;top:435px;width:35px;height:26px;background:#6e9cde">3</div>
<div class="v" style="left:909px;top:461px;width:35px;height:34px;line-height:34px;color:#6b93d6;border-left:none;padding-left:1px">13</div>
<div class="t" style="left:944px;top:435px;width:36px;height:26px;background:#6e9cde">11</div>
<div class="v" style="left:944px;top:461px;width:36px;height:34px;line-height:34px;color:#6b93d6;border-left:none;padding-left:1px">42</div>
<div class="t" style="left:980px;top:435px;width:35px;height:26px;background:#6e9cde">1</div>
<div class="v" style="left:980px;top:461px;width:35px;height:34px;line-height:34px;color:#6b93d6;border-left:none;padding-left:1px">3</div>
<div class="t" style="left:1015px;top:435px;width:34px;height:26px;background:#73b37e">0</div>
<div class="v" style="left:1015px;top:461px;width:34px;height:34px;line-height:34px;color:#6aa874;border-left:none;padding-left:1px">13</div>
<div class="t" style="left:1049px;top:435px;width:35px;height:26px;background:#73b37e">0</div>
<div class="v" style="left:1049px;top:461px;width:35px;height:34px;line-height:34px;color:#6aa874;border-left:none;padding-left:1px">13</div>
<div class="t" style="left:1084px;top:435px;width:36px;height:26px;background:#73b37e">0</div>
<div class="v" style="left:1084px;top:461px;width:36px;height:34px;line-height:34px;color:#6aa874;border-left:none;padding-left:1px">26</div>
<div class="t" style="left:1120px;top:435px;width:36px;height:26px;background:#73b37e">0</div>
<div class="v" style="left:1120px;top:461px;width:36px;height:34px;line-height:34px;color:#6aa874;border-left:none;padding-left:1px">4</div>
<div class="t" style="left:1246px;top:435px;width:43px;height:26px;background:#6e9cde">11</div>
<div class="v" style="left:1246px;top:461px;width:43px;height:34px;line-height:34px;color:#6b93d6;border-left:none;padding-left:1px">95</div>
<div class="t" style="left:1289px;top:435px;width:35px;height:26px;background:#73b37e">0</div>
<div class="v" style="left:1289px;top:461px;width:35px;height:34px;line-height:34px;color:#6aa874;border-left:none;padding-left:1px">3</div>
<div class="t" style="left:1324px;top:435px;width:43px;height:26px;background:#6e9cde">11</div>
<div class="v" style="left:1324px;top:461px;width:43px;height:34px;line-height:34px;color:#6b93d6;border-left:none;padding-left:1px">95</div>
<div class="t" style="left:1367px;top:435px;width:35px;height:26px;background:#73b37e">0</div>
<div class="v" style="left:1367px;top:461px;width:35px;height:34px;line-height:34px;color:#6aa874;border-left:none;padding-left:1px">3</div>
<div class="t" style="left:1402px;top:435px;width:36px;height:26px;background:#ae5e50">-2</div>
<div class="v" style="left:1402px;top:461px;width:36px;height:34px;line-height:34px;color:#a8574a;border-left:none;padding-left:1px">-2</div>
<div class="a" style="left:572px;top:460.88px;width:10px;height:6px"><svg width="10" height="6" viewBox="0 0 10 6"><path d="M0.7 0.7 L5 5 L9.3 0.7" fill="none" stroke="#c3c3cb" stroke-width="1.2"/></svg></div>
<div class="a" style="left:1191px;top:460.88px;width:10px;height:6px"><svg width="10" height="6" viewBox="0 0 10 6"><path d="M0.7 0.7 L5 5 L9.3 0.7" fill="none" stroke="#c3c3cb" stroke-width="1.2"/></svg></div>
<div class="a" style="left:1167px;top:454.68px;font-size:14px;line-height:20px;color:#5a5a5e">5</div>
<div class="a" style="left:13px;top:495px;width:312px;height:62px;background:#ffffff;border-top:1px solid #e6e6e6"></div>
<div class="a" style="left:325px;top:495px;width:36px;height:62px;background:#f7f7f7;border-left:1px solid #e2e2e8;border-top:1px solid #e6e6e6"></div>
<div class="nm" style="left:35px;top:516.32px">Billy</div>
<div class="nm" style="left:191px;top:516.32px">Bunter</div>
<div class="a" style="left:335px;top:518.52px;width:16px;height:16px"><svg width="16" height="16" viewBox="0 0 16 16"><rect x="1.25" y="1.25" width="13.5" height="13.5" rx="2" fill="none" stroke="#727277" stroke-width="1.5"/><circle cx="8" cy="6.3" r="1.8" fill="#727277"/><path d="M4.2 11.8 Q4.2 9.3 8 9.3 Q11.8 9.3 11.8 11.8 Z" fill="#727277"/></svg></div>
<div class="v" style="left:361px;top:495px;width:35px;height:62px;background:#fae4e9"></div>
<div class="v" style="left:396px;top:495px;width:35px;height:62px;background:#fae4e9"></div>
<div class="v" style="left:431px;top:495px;width:35px;height:62px;background:#fae4e9"></div>
<div class="v" style="left:466px;top:495px;width:35px;height:62px;background:#f7d8e0"></div>
<div class="v" style="left:501px;top:495px;width:36px;height:62px;background:#f7d8e0"></div>
<div class="v" style="left:537px;top:495px;width:56px;height:62px;background:#fdedcb"></div>
<div class="v" style="left:593px;top:495px;width:35px;height:62px;background:#fdedcb"></div>
<div class="v" style="left:628px;top:495px;width:35px;height:62px;background:#fdedcb"></div>
<div class="v" style="left:663px;top:495px;width:35px;height:62px;background:#fdedcb"></div>
<div class="v" style="left:698px;top:495px;width:35px;height:62px;background:#fce3b3"></div>
<div class="v" style="left:733px;top:495px;width:36px;height:62px;background:#fdedcb;border-left-width:2px"></div>
<div class="v" style="left:769px;top:495px;width:35px;height:62px;background:#fdedcb"></div>
<div class="v" style="left:804px;top:495px;width:35px;height:62px;background:#fdedcb"></div>
<div class="v" style="left:839px;top:495px;width:35px;height:62px;background:#fdedcb"></div>
<div class="v" style="left:874px;top:495px;width:35px;height:62px;background:#fdedcb"></div>
<div class="v" style="left:909px;top:495px;width:35px;height:62px;background:#fce3b3"></div>
<div class="v" style="left:944px;top:495px;width:36px;height:62px;background:#fce3b3"></div>
<div class="v" style="left:980px;top:495px;width:35px;height:62px;background:#fce3b3"></div>
<div class="v" style="left:1015px;top:495px;width:34px;height:62px;background:#cbf1e2"></div>
<div class="v" style="left:1049px;top:495px;width:35px;height:62px;background:#cbf1e2"></div>
<div class="v" style="left:1084px;top:495px;width:36px;height:62px;background:#b8ead5;border-left-width:2px"></div>
<div class="v" style="left:1120px;top:495px;width:36px;height:62px;background:#b8ead5"></div>
<div class="v" style="left:1156px;top:495px;width:55px;height:62px;background:#f7cbb3"></div>
<div class="v" style="left:1211px;top:495px;width:35px;height:62px;background:#f7cbb3"></div>
<div class="v" style="left:1246px;top:495px;width:43px;height:62px;background:#f7cbb3"></div>
<div class="v" style="left:1289px;top:495px;width:35px;height:62px;background:#f7cbb3"></div>
<div class="v" style="left:1324px;top:495px;width:43px;height:62px;background:#f7cbb3"></div>
<div class="v" style="left:1367px;top:495px;width:35px;height:62px;background:#f7cbb3"></div>
<div class="v" style="left:1402px;top:495px;width:36px;height:62px;background:#f7cbb3"></div>
<div class="v" style="left:1438px;top:495px;width:35px;height:62px;background:#f7cbb3"></div>
<div class="hl" style="left:361px;top:495px;width:1112px;background:rgba(228,226,226,0.85)"></div>
<div class="hl" style="left:361px;top:496px;width:1112px;background:rgba(245,243,243,0.6)"></div>
<div class="t" style="left:361px;top:497px;width:35px;height:25px;background:#73b37e">0</div>
<div class="v" style="left:361px;top:522px;width:35px;height:35px;line-height:35px;color:#6aa874;border-left:none;padding-left:1px">2</div>
<div class="t" style="left:396px;top:497px;width:35px;height:25px;background:#ae5e50">-5</div>
<div class="v" style="left:396px;top:522px;width:35px;height:35px;line-height:35px;color:#a8574a;border-left:none;padding-left:1px">10</div>
<div class="t" style="left:431px;top:497px;width:35px;height:25px;background:#73b37e">0</div>
<div class="v" style="left:431px;top:522px;width:35px;height:35px;line-height:35px;color:#6aa874;border-left:none;padding-left:1px">27</div>
<div class="t" style="left:466px;top:497px;width:35px;height:25px;background:#ae5e50">-5</div>
<div class="v" style="left:466px;top:522px;width:35px;height:35px;line-height:35px;color:#a8574a;border-left:none;padding-left:1px">39</div>
<div class="t" style="left:501px;top:497px;width:36px;height:25px;background:#ae5e50">-1</div>
<div class="v" style="left:501px;top:522px;width:36px;height:35px;line-height:35px;color:#a8574a;border-left:none;padding-left:1px">5</div>
<div class="t" style="left:593px;top:497px;width:35px;height:25px;background:#73b37e">0</div>
<div class="v" style="left:593px;top:522px;width:35px;height:35px;line-height:35px;color:#6aa874;border-left:none;padding-left:1px">15</div>
<div class="t" style="left:628px;top:497px;width:35px;height:25px;background:#73b37e">0</div>
<div class="v" style="left:628px;top:522px;width:35px;height:35px;line-height:35px;color:#6aa874;border-left:none;padding-left:1px">11</div>
<div class="t" style="left:663px;top:497px;width:35px;height:25px;background:#73b37e">0</div>
<div class="v" style="left:663px;top:522px;width:35px;height:35px;line-height:35px;color:#6aa874;border-left:none;padding-left:1px">4</div>
<div class="t" style="left:698px;top:497px;width:35px;height:25px;background:#73b37e">0</div>
<div class="v" style="left:698px;top:522px;width:35px;height:35px;line-height:35px;color:#6aa874;border-left:none;padding-left:1px">30</div>
<div class="t" style="left:733px;top:497px;width:36px;height:25px;background:#73b37e">0</div>
<div class="v" style="left:733px;top:522px;width:36px;height:35px;line-height:35px;color:#6aa874;border-left:none;padding-left:1px">2</div>
<div class="t" style="left:769px;top:497px;width:35px;height:25px;background:#73b37e">0</div>
<div class="v" style="left:769px;top:522px;width:35px;height:35px;line-height:35px;color:#6aa874;border-left:none;padding-left:1px">1</div>
<div class="t" style="left:804px;top:497px;width:35px;height:25px;background:#6e9cde">1</div>
<div class="v" style="left:804px;top:522px;width:35px;height:35px;line-height:35px;color:#6b93d6;border-left:none;padding-left:1px">3</div>
<div class="t" style="left:839px;top:497px;width:35px;height:25px;background:#73b37e">0</div>
<div class="v" style="left:839px;top:522px;width:35px;height:35px;line-height:35px;color:#6aa874;border-left:none;padding-left:1px">4</div>
<div class="t" style="left:874px;top:497px;width:35px;height:25px;background:#73b37e">0</div>
<div class="v" style="left:874px;top:522px;width:35px;height:35px;line-height:35px;color:#6aa874;border-left:none;padding-left:1px">3</div>
<div class="t" style="left:909px;top:497px;width:35px;height:25px;background:#6e9cde">1</div>
<div class="v" style="left:909px;top:522px;width:35px;height:35px;line-height:35px;color:#6b93d6;border-left:none;padding-left:1px">13</div>
<div class="t" style="left:944px;top:497px;width:36px;height:25px;background:#6e9cde">1</div>
<div class="v" style="left:944px;top:522px;width:36px;height:35px;line-height:35px;color:#6b93d6;border-left:none;padding-left:1px">43</div>
<div class="t" style="left:980px;top:497px;width:35px;height:25px;background:#73b37e">0</div>
<div class="v" style="left:980px;top:522px;width:35px;height:35px;line-height:35px;color:#6aa874;border-left:none;padding-left:1px">3</div>
<div class="t" style="left:1015px;top:497px;width:34px;height:25px;background:#73b37e">0</div>
<div class="v" style="left:1015px;top:522px;width:34px;height:35px;line-height:35px;color:#6aa874;border-left:none;padding-left:1px">14</div>
<div class="t" style="left:1049px;top:497px;width:35px;height:25px;background:#73b37e">0</div>
<div class="v" style="left:1049px;top:522px;width:35px;height:35px;line-height:35px;color:#6aa874;border-left:none;padding-left:1px">13</div>
<div class="t" style="left:1084px;top:497px;width:36px;height:25px;background:#73b37e">0</div>
<div class="v" style="left:1084px;top:522px;width:36px;height:35px;line-height:35px;color:#6aa874;border-left:none;padding-left:1px">27</div>
<div class="t" style="left:1120px;top:497px;width:36px;height:25px;background:#73b37e">0</div>
<div class="v" style="left:1120px;top:522px;width:36px;height:35px;line-height:35px;color:#6aa874;border-left:none;padding-left:1px">5</div>
<div class="t" style="left:1246px;top:497px;width:43px;height:25px;background:#ae5e50">-4</div>
<div class="v" style="left:1246px;top:522px;width:43px;height:35px;line-height:35px;color:#a8574a;border-left:none;padding-left:1px">109</div>
<div class="t" style="left:1289px;top:497px;width:35px;height:25px;background:#73b37e">0</div>
<div class="v" style="left:1289px;top:522px;width:35px;height:35px;line-height:35px;color:#6aa874;border-left:none;padding-left:1px">4</div>
<div class="t" style="left:1324px;top:497px;width:43px;height:25px;background:#ae5e50">-4</div>
<div class="v" style="left:1324px;top:522px;width:43px;height:35px;line-height:35px;color:#a8574a;border-left:none;padding-left:1px">109</div>
<div class="t" style="left:1367px;top:497px;width:35px;height:25px;background:#73b37e">0</div>
<div class="v" style="left:1367px;top:522px;width:35px;height:35px;line-height:35px;color:#6aa874;border-left:none;padding-left:1px">4</div>
<div class="t" style="left:1402px;top:497px;width:36px;height:25px;background:#ae5e50">-1</div>
<div class="v" style="left:1402px;top:522px;width:36px;height:35px;line-height:35px;color:#a8574a;border-left:none;padding-left:1px">-1</div>
<div class="a" style="left:572px;top:522.72px;width:10px;height:6px"><svg width="10" height="6" viewBox="0 0 10 6"><path d="M0.7 0.7 L5 5 L9.3 0.7" fill="none" stroke="#c3c3cb" stroke-width="1.2"/></svg></div>
<div class="a" style="left:1191px;top:522.72px;width:10px;height:6px"><svg width="10" height="6" viewBox="0 0 10 6"><path d="M0.7 0.7 L5 5 L9.3 0.7" fill="none" stroke="#c3c3cb" stroke-width="1.2"/></svg></div>
<div class="a" style="left:1167px;top:516.52px;font-size:14px;line-height:20px;color:#5a5a5e">5</div>
<div class="a" style="left:13px;top:557px;width:312px;height:61px;background:#ffffff;border-top:1px solid #e6e6e6"></div>
<div class="a" style="left:325px;top:557px;width:36px;height:61px;background:#f7f7f7;border-left:1px solid #e2e2e8;border-top:1px solid #e6e6e6"></div>
<div class="nm" style="left:35px;top:578.16px">Katniss</div>
<div class="nm" style="left:191px;top:578.16px">Everdeen</div>
<div class="a" style="left:335px;top:580.3599999999999px;width:16px;height:16px"><svg width="16" height="16" viewBox="0 0 16 16"><rect x="1.25" y="1.25" width="13.5" height="13.5" rx="2" fill="none" stroke="#727277" stroke-width="1.5"/><circle cx="8" cy="6.3" r="1.8" fill="#727277"/><path d="M4.2 11.8 Q4.2 9.3 8 9.3 Q11.8 9.3 11.8 11.8 Z" fill="#727277"/></svg></div>
<div class="v" style="left:361px;top:557px;width:35px;height:61px;background:#fae4e9"></div>
<div class="v" style="left:396px;top:557px;width:35px;height:61px;background:#fae4e9"></div>
<div class="v" style="left:431px;top:557px;width:35px;height:61px;background:#fae4e9"></div>
<div class="v" style="left:466px;top:557px;width:35px;height:61px;background:#f7d8e0"></div>
<div class="v" style="left:501px;top:557px;width:36px;height:61px;background:#f7d8e0"></div>
<div class="v" style="left:537px;top:557px;width:56px;height:61px;background:#fdedcb"></div>
<div class="v" style="left:593px;top:557px;width:35px;height:61px;background:#fdedcb"></div>
<div class="v" style="left:628px;top:557px;width:35px;height:61px;background:#fdedcb"></div>
<div class="v" style="left:663px;top:557px;width:35px;height:61px;background:#fdedcb"></div>
<div class="v" style="left:698px;top:557px;width:35px;height:61px;background:#fce3b3"></div>
<div class="v" style="left:733px;top:557px;width:36px;height:61px;background:#fdedcb;border-left-width:2px"></div>
<div class="v" style="left:769px;top:557px;width:35px;height:61px;background:#fdedcb"></div>
<div class="v" style="left:804px;top:557px;width:35px;height:61px;background:#fdedcb"></div>
<div class="v" style="left:839px;top:557px;width:35px;height:61px;background:#fdedcb"></div>
<div class="v" style="left:874px;top:557px;width:35px;height:61px;background:#fdedcb"></div>
<div class="v" style="left:909px;top:557px;width:35px;height:61px;background:#fce3b3"></div>
<div class="v" style="left:944px;top:557px;width:36px;height:61px;background:#fce3b3"></div>
<div class="v" style="left:980px;top:557px;width:35px;height:61px;background:#fce3b3"></div>
<div class="v" style="left:1015px;top:557px;width:34px;height:61px;background:#cbf1e2"></div>
<div class="v" style="left:1049px;top:557px;width:35px;height:61px;background:#cbf1e2"></div>
<div class="v" style="left:1084px;top:557px;width:36px;height:61px;background:#b8ead5;border-left-width:2px"></div>
<div class="v" style="left:1120px;top:557px;width:36px;height:61px;background:#b8ead5"></div>
<div class="v" style="left:1156px;top:557px;width:55px;height:61px;background:#f7cbb3"></div>
<div class="v" style="left:1211px;top:557px;width:35px;height:61px;background:#f7cbb3"></div>
<div class="v" style="left:1246px;top:557px;width:43px;height:61px;background:#f7cbb3"></div>
<div class="v" style="left:1289px;top:557px;width:35px;height:61px;background:#f7cbb3"></div>
<div class="v" style="left:1324px;top:557px;width:43px;height:61px;background:#f7cbb3"></div>
<div class="v" style="left:1367px;top:557px;width:35px;height:61px;background:#f7cbb3"></div>
<div class="v" style="left:1402px;top:557px;width:36px;height:61px;background:#f7cbb3"></div>
<div class="v" style="left:1438px;top:557px;width:35px;height:61px;background:#f7cbb3"></div>
<div class="hl" style="left:361px;top:557px;width:1112px;background:rgba(228,226,226,0.85)"></div>
<div class="hl" style="left:361px;top:558px;width:1112px;background:rgba(245,243,243,0.6)"></div>
<div class="t" style="left:361px;top:559px;width:35px;height:25px;background:#73b37e">0</div>
<div class="v" style="left:361px;top:584px;width:35px;height:34px;line-height:34px;color:#6aa874;border-left:none;padding-left:1px">4</div>
<div class="t" style="left:396px;top:559px;width:35px;height:25px;background:#73b37e">0</div>
<div class="v" style="left:396px;top:584px;width:35px;height:34px;line-height:34px;color:#6aa874;border-left:none;padding-left:1px">42</div>
<div class="t" style="left:431px;top:559px;width:35px;height:25px;background:#73b37e">0</div>
<div class="v" style="left:431px;top:584px;width:35px;height:34px;line-height:34px;color:#6aa874;border-left:none;padding-left:1px">29</div>
<div class="t" style="left:466px;top:559px;width:35px;height:25px;background:#73b37e">0</div>
<div class="v" style="left:466px;top:584px;width:35px;height:34px;line-height:34px;color:#6aa874;border-left:none;padding-left:1px">75</div>
<div class="t" style="left:501px;top:559px;width:36px;height:25px;background:#73b37e">0</div>
<div class="v" style="left:501px;top:584px;width:36px;height:34px;line-height:34px;color:#6aa874;border-left:none;padding-left:1px">9</div>
<div class="t" style="left:593px;top:559px;width:35px;height:25px;background:#73b37e">0</div>
<div class="v" style="left:593px;top:584px;width:35px;height:34px;line-height:34px;color:#6aa874;border-left:none;padding-left:1px">19</div>
<div class="t" style="left:628px;top:559px;width:35px;height:25px;background:#73b37e">0</div>
<div class="v" style="left:628px;top:584px;width:35px;height:34px;line-height:34px;color:#6aa874;border-left:none;padding-left:1px">17</div>
<div class="t" style="left:663px;top:559px;width:35px;height:25px;background:#73b37e">0</div>
<div class="v" style="left:663px;top:584px;width:35px;height:34px;line-height:34px;color:#6aa874;border-left:none;padding-left:1px">5</div>
<div class="t" style="left:698px;top:559px;width:35px;height:25px;background:#73b37e">0</div>
<div class="v" style="left:698px;top:584px;width:35px;height:34px;line-height:34px;color:#6aa874;border-left:none;padding-left:1px">41</div>
<div class="t" style="left:733px;top:559px;width:36px;height:25px;background:#73b37e">0</div>
<div class="v" style="left:733px;top:584px;width:36px;height:34px;line-height:34px;color:#6aa874;border-left:none;padding-left:1px">4</div>
<div class="t" style="left:769px;top:559px;width:35px;height:25px;background:#73b37e">0</div>
<div class="v" style="left:769px;top:584px;width:35px;height:34px;line-height:34px;color:#6aa874;border-left:none;padding-left:1px">3</div>
<div class="t" style="left:804px;top:559px;width:35px;height:25px;background:#73b37e">0</div>
<div class="v" style="left:804px;top:584px;width:35px;height:34px;line-height:34px;color:#6aa874;border-left:none;padding-left:1px">3</div>
<div class="t" style="left:839px;top:559px;width:35px;height:25px;background:#73b37e">0</div>
<div class="v" style="left:839px;top:584px;width:35px;height:34px;line-height:34px;color:#6aa874;border-left:none;padding-left:1px">4</div>
<div class="t" style="left:874px;top:559px;width:35px;height:25px;background:#73b37e">0</div>
<div class="v" style="left:874px;top:584px;width:35px;height:34px;line-height:34px;color:#6aa874;border-left:none;padding-left:1px">4</div>
<div class="t" style="left:909px;top:559px;width:35px;height:25px;background:#73b37e">0</div>
<div class="v" style="left:909px;top:584px;width:35px;height:34px;line-height:34px;color:#6aa874;border-left:none;padding-left:1px">18</div>
<div class="t" style="left:944px;top:559px;width:36px;height:25px;background:#73b37e">0</div>
<div class="v" style="left:944px;top:584px;width:36px;height:34px;line-height:34px;color:#6aa874;border-left:none;padding-left:1px">59</div>
<div class="t" style="left:980px;top:559px;width:35px;height:25px;background:#73b37e">0</div>
<div class="v" style="left:980px;top:584px;width:35px;height:34px;line-height:34px;color:#6aa874;border-left:none;padding-left:1px">6</div>
<div class="t" style="left:1015px;top:559px;width:34px;height:25px;background:#73b37e">0</div>
<div class="v" style="left:1015px;top:584px;width:34px;height:34px;line-height:34px;color:#6aa874;border-left:none;padding-left:1px">10</div>
<div class="t" style="left:1049px;top:559px;width:35px;height:25px;background:#73b37e">0</div>
<div class="v" style="left:1049px;top:584px;width:35px;height:34px;line-height:34px;color:#6aa874;border-left:none;padding-left:1px">5</div>
<div class="t" style="left:1084px;top:559px;width:36px;height:25px;background:#73b37e">0</div>
<div class="v" style="left:1084px;top:584px;width:36px;height:34px;line-height:34px;color:#6aa874;border-left:none;padding-left:1px">15</div>
<div class="t" style="left:1120px;top:559px;width:36px;height:25px;background:#73b37e">0</div>
<div class="v" style="left:1120px;top:584px;width:36px;height:34px;line-height:34px;color:#6aa874;border-left:none;padding-left:1px">2</div>
<div class="t" style="left:1246px;top:559px;width:43px;height:25px;background:#73b37e">0</div>
<div class="v" style="left:1246px;top:584px;width:43px;height:34px;line-height:34px;color:#6aa874;border-left:none;padding-left:1px">149</div>
<div class="t" style="left:1289px;top:559px;width:35px;height:25px;background:#73b37e">0</div>
<div class="v" style="left:1289px;top:584px;width:35px;height:34px;line-height:34px;color:#6aa874;border-left:none;padding-left:1px">7</div>
<div class="t" style="left:1324px;top:559px;width:43px;height:25px;background:#73b37e">0</div>
<div class="v" style="left:1324px;top:584px;width:43px;height:34px;line-height:34px;color:#6aa874;border-left:none;padding-left:1px">149</div>
<div class="t" style="left:1367px;top:559px;width:35px;height:25px;background:#73b37e">0</div>
<div class="v" style="left:1367px;top:584px;width:35px;height:34px;line-height:34px;color:#6aa874;border-left:none;padding-left:1px">7</div>
<div class="t" style="left:1402px;top:559px;width:36px;height:25px;background:#73b37e">0</div>
<div class="v" style="left:1402px;top:584px;width:36px;height:34px;line-height:34px;color:#6aa874;border-left:none;padding-left:1px">3</div>
<div class="a" style="left:572px;top:584.56px;width:10px;height:6px"><svg width="10" height="6" viewBox="0 0 10 6"><path d="M0.7 0.7 L5 5 L9.3 0.7" fill="none" stroke="#c3c3cb" stroke-width="1.2"/></svg></div>
<div class="a" style="left:1191px;top:584.56px;width:10px;height:6px"><svg width="10" height="6" viewBox="0 0 10 6"><path d="M0.7 0.7 L5 5 L9.3 0.7" fill="none" stroke="#c3c3cb" stroke-width="1.2"/></svg></div>
<div class="a" style="left:1167px;top:578.3599999999999px;font-size:14px;line-height:20px;color:#5a5a5e">4</div>
<div class="a" style="left:13px;top:618px;width:312px;height:62px;background:#ffffff;border-top:1px solid #e6e6e6"></div>
<div class="a" style="left:325px;top:618px;width:36px;height:62px;background:#f7f7f7;border-left:1px solid #e2e2e8;border-top:1px solid #e6e6e6"></div>
<div class="nm" style="left:35px;top:640.0px">Jane</div>
<div class="nm" style="left:191px;top:640.0px">Eyre</div>
<div class="a" style="left:335px;top:642.1999999999999px;width:16px;height:16px"><svg width="16" height="16" viewBox="0 0 16 16"><rect x="1.25" y="1.25" width="13.5" height="13.5" rx="2" fill="none" stroke="#727277" stroke-width="1.5"/><circle cx="8" cy="6.3" r="1.8" fill="#727277"/><path d="M4.2 11.8 Q4.2 9.3 8 9.3 Q11.8 9.3 11.8 11.8 Z" fill="#727277"/></svg></div>
<div class="v" style="left:361px;top:618px;width:35px;height:62px;background:#fae4e9"></div>
<div class="v" style="left:396px;top:618px;width:35px;height:62px;background:#fae4e9"></div>
<div class="v" style="left:431px;top:618px;width:35px;height:62px;background:#fae4e9"></div>
<div class="v" style="left:466px;top:618px;width:35px;height:62px;background:#f7d8e0"></div>
<div class="v" style="left:501px;top:618px;width:36px;height:62px;background:#f7d8e0"></div>
<div class="v" style="left:537px;top:618px;width:56px;height:62px;background:#fdedcb"></div>
<div class="v" style="left:593px;top:618px;width:35px;height:62px;background:#fdedcb"></div>
<div class="v" style="left:628px;top:618px;width:35px;height:62px;background:#fdedcb"></div>
<div class="v" style="left:663px;top:618px;width:35px;height:62px;background:#fdedcb"></div>
<div class="v" style="left:698px;top:618px;width:35px;height:62px;background:#fce3b3"></div>
<div class="v" style="left:733px;top:618px;width:36px;height:62px;background:#fdedcb;border-left-width:2px"></div>
<div class="v" style="left:769px;top:618px;width:35px;height:62px;background:#fdedcb"></div>
<div class="v" style="left:804px;top:618px;width:35px;height:62px;background:#fdedcb"></div>
<div class="v" style="left:839px;top:618px;width:35px;height:62px;background:#fdedcb"></div>
<div class="v" style="left:874px;top:618px;width:35px;height:62px;background:#fdedcb"></div>
<div class="v" style="left:909px;top:618px;width:35px;height:62px;background:#fce3b3"></div>
<div class="v" style="left:944px;top:618px;width:36px;height:62px;background:#fce3b3"></div>
<div class="v" style="left:980px;top:618px;width:35px;height:62px;background:#fce3b3"></div>
<div class="v" style="left:1015px;top:618px;width:34px;height:62px;background:#cbf1e2"></div>
<div class="v" style="left:1049px;top:618px;width:35px;height:62px;background:#cbf1e2"></div>
<div class="v" style="left:1084px;top:618px;width:36px;height:62px;background:#b8ead5;border-left-width:2px"></div>
<div class="v" style="left:1120px;top:618px;width:36px;height:62px;background:#b8ead5"></div>
<div class="v" style="left:1156px;top:618px;width:55px;height:62px;background:#f7cbb3"></div>
<div class="v" style="left:1211px;top:618px;width:35px;height:62px;background:#f7cbb3"></div>
<div class="v" style="left:1246px;top:618px;width:43px;height:62px;background:#f7cbb3"></div>
<div class="v" style="left:1289px;top:618px;width:35px;height:62px;background:#f7cbb3"></div>
<div class="v" style="left:1324px;top:618px;width:43px;height:62px;background:#f7cbb3"></div>
<div class="v" style="left:1367px;top:618px;width:35px;height:62px;background:#f7cbb3"></div>
<div class="v" style="left:1402px;top:618px;width:36px;height:62px;background:#f7cbb3"></div>
<div class="v" style="left:1438px;top:618px;width:35px;height:62px;background:#f7cbb3"></div>
<div class="hl" style="left:361px;top:618px;width:1112px;background:rgba(228,226,226,0.85)"></div>
<div class="hl" style="left:361px;top:619px;width:1112px;background:rgba(245,243,243,0.6)"></div>
<div class="t" style="left:361px;top:620px;width:35px;height:26px;background:#73b37e">0</div>
<div class="v" style="left:361px;top:646px;width:35px;height:34px;line-height:34px;color:#6aa874;border-left:none;padding-left:1px">1</div>
<div class="t" style="left:396px;top:620px;width:35px;height:26px;background:#ae5e50">-5</div>
<div class="v" style="left:396px;top:646px;width:35px;height:34px;line-height:34px;color:#a8574a;border-left:none;padding-left:1px">15</div>
<div class="t" style="left:431px;top:620px;width:35px;height:26px;background:#73b37e">0</div>
<div class="v" style="left:431px;top:646px;width:35px;height:34px;line-height:34px;color:#6aa874;border-left:none;padding-left:1px">12</div>
<div class="t" style="left:466px;top:620px;width:35px;height:26px;background:#ae5e50">-5</div>
<div class="v" style="left:466px;top:646px;width:35px;height:34px;line-height:34px;color:#a8574a;border-left:none;padding-left:1px">28</div>
<div class="t" style="left:501px;top:620px;width:36px;height:26px;background:#ae5e50">-1</div>
<div class="v" style="left:501px;top:646px;width:36px;height:34px;line-height:34px;color:#a8574a;border-left:none;padding-left:1px">3</div>
<div class="t" style="left:593px;top:620px;width:35px;height:26px;background:#73b37e">0</div>
<div class="v" style="left:593px;top:646px;width:35px;height:34px;line-height:34px;color:#6aa874;border-left:none;padding-left:1px">8</div>
<div class="t" style="left:628px;top:620px;width:35px;height:26px;background:#6e9cde">6</div>
<div class="v" style="left:628px;top:646px;width:35px;height:34px;line-height:34px;color:#6b93d6;border-left:none;padding-left:1px">16</div>
<div class="t" style="left:663px;top:620px;width:35px;height:26px;background:#73b37e">0</div>
<div class="v" style="left:663px;top:646px;width:35px;height:34px;line-height:34px;color:#6aa874;border-left:none;padding-left:1px">6</div>
<div class="t" style="left:698px;top:620px;width:35px;height:26px;background:#6e9cde">6</div>
<div class="v" style="left:698px;top:646px;width:35px;height:34px;line-height:34px;color:#6b93d6;border-left:none;padding-left:1px">30</div>
<div class="t" style="left:733px;top:620px;width:36px;height:26px;background:#73b37e">0</div>
<div class="v" style="left:733px;top:646px;width:36px;height:34px;line-height:34px;color:#6aa874;border-left:none;padding-left:1px">3</div>
<div class="t" style="left:769px;top:620px;width:35px;height:26px;background:#73b37e">0</div>
<div class="v" style="left:769px;top:646px;width:35px;height:34px;line-height:34px;color:#6aa874;border-left:none;padding-left:1px">2</div>
<div class="t" style="left:804px;top:620px;width:35px;height:26px;background:#6e9cde">1</div>
<div class="v" style="left:804px;top:646px;width:35px;height:34px;line-height:34px;color:#6b93d6;border-left:none;padding-left:1px">2</div>
<div class="t" style="left:839px;top:620px;width:35px;height:26px;background:#73b37e">0</div>
<div class="v" style="left:839px;top:646px;width:35px;height:34px;line-height:34px;color:#6aa874;border-left:none;padding-left:1px">3</div>
<div class="t" style="left:874px;top:620px;width:35px;height:26px;background:#73b37e">0</div>
<div class="v" style="left:874px;top:646px;width:35px;height:34px;line-height:34px;color:#6aa874;border-left:none;padding-left:1px">3</div>
<div class="t" style="left:909px;top:620px;width:35px;height:26px;background:#6e9cde">1</div>
<div class="v" style="left:909px;top:646px;width:35px;height:34px;line-height:34px;color:#6b93d6;border-left:none;padding-left:1px">13</div>
<div class="t" style="left:944px;top:620px;width:36px;height:26px;background:#6e9cde">7</div>
<div class="v" style="left:944px;top:646px;width:36px;height:34px;line-height:34px;color:#6b93d6;border-left:none;padding-left:1px">43</div>
<div class="t" style="left:980px;top:620px;width:35px;height:26px;background:#73b37e">0</div>
<div class="v" style="left:980px;top:646px;width:35px;height:34px;line-height:34px;color:#6aa874;border-left:none;padding-left:1px">3</div>
<div class="t" style="left:1015px;top:620px;width:34px;height:26px;background:#73b37e">0</div>
<div class="v" style="left:1015px;top:646px;width:34px;height:34px;line-height:34px;color:#6aa874;border-left:none;padding-left:1px">15</div>
<div class="t" style="left:1049px;top:620px;width:35px;height:26px;background:#73b37e">0</div>
<div class="v" style="left:1049px;top:646px;width:35px;height:34px;line-height:34px;color:#6aa874;border-left:none;padding-left:1px">6</div>
<div class="t" style="left:1084px;top:620px;width:36px;height:26px;background:#73b37e">0</div>
<div class="v" style="left:1084px;top:646px;width:36px;height:34px;line-height:34px;color:#6aa874;border-left:none;padding-left:1px">21</div>
<div class="t" style="left:1120px;top:620px;width:36px;height:26px;background:#73b37e">0</div>
<div class="v" style="left:1120px;top:646px;width:36px;height:34px;line-height:34px;color:#6aa874;border-left:none;padding-left:1px">3</div>
<div class="t" style="left:1246px;top:620px;width:43px;height:26px;background:#6e9cde">2</div>
<div class="v" style="left:1246px;top:646px;width:43px;height:34px;line-height:34px;color:#6b93d6;border-left:none;padding-left:1px">92</div>
<div class="t" style="left:1289px;top:620px;width:35px;height:26px;background:#73b37e">0</div>
<div class="v" style="left:1289px;top:646px;width:35px;height:34px;line-height:34px;color:#6aa874;border-left:none;padding-left:1px">3</div>
<div class="t" style="left:1324px;top:620px;width:43px;height:26px;background:#6e9cde">2</div>
<div class="v" style="left:1324px;top:646px;width:43px;height:34px;line-height:34px;color:#6b93d6;border-left:none;padding-left:1px">92</div>
<div class="t" style="left:1367px;top:620px;width:35px;height:26px;background:#73b37e">0</div>
<div class="v" style="left:1367px;top:646px;width:35px;height:34px;line-height:34px;color:#6aa874;border-left:none;padding-left:1px">3</div>
<div class="t" style="left:1402px;top:620px;width:36px;height:26px;background:#ae5e50">-3</div>
<div class="v" style="left:1402px;top:646px;width:36px;height:34px;line-height:34px;color:#a8574a;border-left:none;padding-left:1px">-3</div>
<div class="a" style="left:572px;top:646.4px;width:10px;height:6px"><svg width="10" height="6" viewBox="0 0 10 6"><path d="M0.7 0.7 L5 5 L9.3 0.7" fill="none" stroke="#c3c3cb" stroke-width="1.2"/></svg></div>
<div class="a" style="left:1191px;top:646.4px;width:10px;height:6px"><svg width="10" height="6" viewBox="0 0 10 6"><path d="M0.7 0.7 L5 5 L9.3 0.7" fill="none" stroke="#c3c3cb" stroke-width="1.2"/></svg></div>
<div class="a" style="left:1167px;top:640.1999999999999px;font-size:14px;line-height:20px;color:#5a5a5e">6</div>
<div class="a" style="left:13px;top:680px;width:312px;height:62px;background:#ffffff;border-top:1px solid #e6e6e6"></div>
<div class="a" style="left:325px;top:680px;width:36px;height:62px;background:#f7f7f7;border-left:1px solid #e2e2e8;border-top:1px solid #e6e6e6"></div>
<div class="v" style="left:361px;top:680px;width:35px;height:62px;background:#fae4e9"></div>
<div class="v" style="left:396px;top:680px;width:35px;height:62px;background:#fae4e9"></div>
<div class="v" style="left:431px;top:680px;width:35px;height:62px;background:#fae4e9"></div>
<div class="v" style="left:466px;top:680px;width:35px;height:62px;background:#f7d8e0"></div>
<div class="v" style="left:501px;top:680px;width:36px;height:62px;background:#f7d8e0"></div>
<div class="v" style="left:537px;top:680px;width:56px;height:62px;background:#fdedcb"></div>
<div class="v" style="left:593px;top:680px;width:35px;height:62px;background:#fdedcb"></div>
<div class="v" style="left:628px;top:680px;width:35px;height:62px;background:#fdedcb"></div>
<div class="v" style="left:663px;top:680px;width:35px;height:62px;background:#fdedcb"></div>
<div class="v" style="left:698px;top:680px;width:35px;height:62px;background:#fce3b3"></div>
<div class="v" style="left:733px;top:680px;width:36px;height:62px;background:#fdedcb;border-left-width:2px"></div>
<div class="v" style="left:769px;top:680px;width:35px;height:62px;background:#fdedcb"></div>
<div class="v" style="left:804px;top:680px;width:35px;height:62px;background:#fdedcb"></div>
<div class="v" style="left:839px;top:680px;width:35px;height:62px;background:#fdedcb"></div>
<div class="v" style="left:874px;top:680px;width:35px;height:62px;background:#fdedcb"></div>
<div class="v" style="left:909px;top:680px;width:35px;height:62px;background:#fce3b3"></div>
<div class="v" style="left:944px;top:680px;width:36px;height:62px;background:#fce3b3"></div>
<div class="v" style="left:980px;top:680px;width:35px;height:62px;background:#fce3b3"></div>
<div class="v" style="left:1015px;top:680px;width:34px;height:62px;background:#cbf1e2"></div>
<div class="v" style="left:1049px;top:680px;width:35px;height:62px;background:#cbf1e2"></div>
<div class="v" style="left:1084px;top:680px;width:36px;height:62px;background:#b8ead5;border-left-width:2px"></div>
<div class="v" style="left:1120px;top:680px;width:36px;height:62px;background:#b8ead5"></div>
<div class="v" style="left:1156px;top:680px;width:55px;height:62px;background:#f7cbb3"></div>
<div class="v" style="left:1211px;top:680px;width:35px;height:62px;background:#f7cbb3"></div>
<div class="v" style="left:1246px;top:680px;width:43px;height:62px;background:#f7cbb3"></div>
<div class="v" style="left:1289px;top:680px;width:35px;height:62px;background:#f7cbb3"></div>
<div class="v" style="left:1324px;top:680px;width:43px;height:62px;background:#f7cbb3"></div>
<div class="v" style="left:1367px;top:680px;width:35px;height:62px;background:#f7cbb3"></div>
<div class="v" style="left:1402px;top:680px;width:36px;height:62px;background:#f7cbb3"></div>
<div class="v" style="left:1438px;top:680px;width:35px;height:62px;background:#f7cbb3"></div>
<div class="hl" style="left:361px;top:680px;width:1112px;background:rgba(228,226,226,0.85)"></div>
<div class="hl" style="left:361px;top:681px;width:1112px;background:rgba(245,243,243,0.6)"></div>
<div class="t" style="left:361px;top:682px;width:35px;height:1px;opacity:0.45;background:#73b37e"></div>
<div class="t" style="left:396px;top:682px;width:35px;height:1px;opacity:0.45;background:#73b37e"></div>
<div class="t" style="left:431px;top:682px;width:35px;height:1px;opacity:0.45;background:#73b37e"></div>
<div class="t" style="left:466px;top:682px;width:35px;height:1px;opacity:0.45;background:#73b37e"></div>
<div class="t" style="left:501px;top:682px;width:36px;height:1px;opacity:0.45;background:#73b37e"></div>
<div class="t" style="left:593px;top:682px;width:35px;height:1px;opacity:0.45;background:#73b37e"></div>
<div class="t" style="left:628px;top:682px;width:35px;height:1px;opacity:0.45;background:#73b37e"></div>
<div class="t" style="left:663px;top:682px;width:35px;height:1px;opacity:0.45;background:#73b37e"></div>
<div class="t" style="left:698px;top:682px;width:35px;height:1px;opacity:0.45;background:#73b37e"></div>
<div class="t" style="left:733px;top:682px;width:36px;height:1px;opacity:0.45;background:#73b37e"></div>
<div class="t" style="left:769px;top:682px;width:35px;height:1px;opacity:0.45;background:#73b37e"></div>
<div class="t" style="left:804px;top:682px;width:35px;height:1px;opacity:0.45;background:#ae5e50"></div>
<div class="t" style="left:839px;top:682px;width:35px;height:1px;opacity:0.45;background:#73b37e"></div>
<div class="t" style="left:874px;top:682px;width:35px;height:1px;opacity:0.45;background:#73b37e"></div>
<div class="t" style="left:909px;top:682px;width:35px;height:1px;opacity:0.45;background:#ae5e50"></div>
<div class="t" style="left:944px;top:682px;width:36px;height:1px;opacity:0.45;background:#ae5e50"></div>
<div class="t" style="left:980px;top:682px;width:35px;height:1px;opacity:0.45;background:#73b37e"></div>
<div class="t" style="left:1015px;top:682px;width:34px;height:1px;opacity:0.45;background:#73b37e"></div>
<div class="t" style="left:1049px;top:682px;width:35px;height:1px;opacity:0.45;background:#73b37e"></div>
<div class="t" style="left:1084px;top:682px;width:36px;height:1px;opacity:0.45;background:#73b37e"></div>
<div class="t" style="left:1120px;top:682px;width:36px;height:1px;opacity:0.45;background:#73b37e"></div>
<div class="t" style="left:1246px;top:682px;width:43px;height:1px;opacity:0.45;background:#ae5e50"></div>
<div class="t" style="left:1289px;top:682px;width:35px;height:1px;opacity:0.45;background:#73b37e"></div>
<div class="t" style="left:1324px;top:682px;width:43px;height:1px;opacity:0.45;background:#ae5e50"></div>
<div class="t" style="left:1367px;top:682px;width:35px;height:1px;opacity:0.45;background:#73b37e"></div>
<div class="t" style="left:1402px;top:682px;width:36px;height:1px;opacity:0.45;background:#73b37e"></div>
</body></html>
